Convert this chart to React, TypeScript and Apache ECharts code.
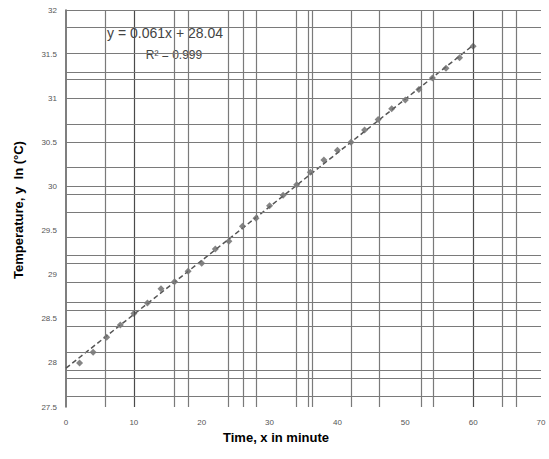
import React, { useEffect, useRef } from "react";
import * as echarts from "echarts";

const timeMin = [2, 4, 6, 8, 10, 12, 14, 16, 18, 20, 22, 24, 26, 28, 30, 32, 34, 36, 38, 40, 42, 44, 46, 48, 50, 52, 54, 56, 58, 60];
const tempLn = [28.0, 28.12, 28.29, 28.43, 28.56, 28.68, 28.84, 28.92, 29.04, 29.13, 29.29, 29.38, 29.55, 29.64, 29.78, 29.9, 30.02, 30.16, 30.3, 30.41, 30.5, 30.64, 30.76, 30.88, 30.98, 31.1, 31.23, 31.34, 31.46, 31.59];
const trendX = [0, 60];
const trendY = [27.94, 31.6];
const xGridValues = [5.75, 10, 16, 18, 23.9, 26.1, 28.1, 34, 35.7, 36.3, 42.1, 46.1, 52.3, 54.1, 60, 64.3, 66.3];
const xGridDark = [10, 60];
const yGridValues = [32, 31.81, 31.51, 31.3, 31.22, 31.0, 30.71, 30.5, 30.22, 30.0, 29.91, 29.71, 29.42, 29.22, 29.13, 28.91, 28.69, 28.6, 28.41, 28.12, 27.92, 27.83, 27.62];
const equationText = "y = 0.061x + 28.04";
const r2Text = "R² = 0.999";
const xTitle = "Time, x in minute";
const yTitle = "Temperature, y  ln (°C)";

export default function App() {
  const ref = useRef<HTMLDivElement>(null);
  useEffect(() => {
    if (!ref.current) return;
    const chart = echarts.init(ref.current, undefined, { renderer: "svg" });
    const gridLines: any[] = [];
    xGridValues.forEach((v) =>
      gridLines.push({
        xAxis: v,
        lineStyle: { color: xGridDark.includes(v) ? "#4a4a4a" : "#7a7a7a", width: 1.2, type: "solid" },
      })
    );
    yGridValues.forEach((v) =>
      gridLines.push({ yAxis: v, lineStyle: { color: "#7a7a7a", width: 1.2, type: "solid" } })
    );
    chart.setOption({
      animation: false,
      backgroundColor: "#ffffff",
      grid: { left: 66, right: 8, top: 10, bottom: 52 },
      xAxis: {
        type: "value",
        min: 0,
        max: 70,
        interval: 10,
        axisLine: { show: false },
        axisTick: { show: false },
        splitLine: { show: false },
        axisLabel: { fontSize: 8, color: "#555", margin: 11, fontFamily: "Liberation Sans" },
      },
      yAxis: {
        type: "value",
        min: 27.5,
        max: 32,
        interval: 0.5,
        axisLine: { show: true, lineStyle: { color: "#555", width: 1.5 } },
        axisTick: { show: false },
        splitLine: { show: false },
        axisLabel: { fontSize: 8, color: "#555", margin: 9, fontFamily: "Liberation Sans" },
      },
      series: [
        {
          type: "line",
          data: [],
          silent: true,
          markLine: {
            silent: true,
            symbol: "none",
            label: { show: false },
            data: gridLines,
          },
        },
        {
          type: "line",
          data: trendX.map((x, i) => [x, trendY[i]]),
          showSymbol: false,
          lineStyle: { color: "#555", width: 1.5, type: [5, 3] },
          z: 3,
        },
        {
          type: "scatter",
          data: timeMin.map((x, i) => [x, tempLn[i]]),
          symbol: "diamond",
          symbolSize: 7,
          itemStyle: { color: "#666" },
          z: 4,
        },
      ],
      graphic: [
        {
          type: "text",
          x: 165,
          y: 33,
          style: {
            text: equationText,
            fontSize: 14,
            fill: "#444",
            fontFamily: "Liberation Sans",
            align: "center",
            verticalAlign: "middle",
          },
        },
        {
          type: "text",
          x: 174,
          y: 55,
          style: {
            text: r2Text,
            fontSize: 12,
            fill: "#444",
            fontFamily: "Liberation Sans",
            align: "center",
            verticalAlign: "middle",
          },
        },
        {
          type: "text",
          x: 276,
          y: 437,
          style: {
            text: xTitle,
            fontSize: 13,
            fontWeight: "bold",
            fill: "#000",
            fontFamily: "Liberation Sans",
            align: "center",
            verticalAlign: "middle",
          },
        },
        {
          type: "text",
          x: 18,
          y: 210,
          rotation: Math.PI / 2,
          style: {
            text: yTitle,
            fontSize: 13,
            fontWeight: "bold",
            fill: "#000",
            fontFamily: "Liberation Sans",
            align: "center",
            verticalAlign: "middle",
          },
        },
      ],
    });
    return () => chart.dispose();
  }, []);
  return (
    <div
      ref={ref}
      style={{ position: "fixed", left: 0, top: 0, width: 549, height: 459 }}
    />
  );
}
